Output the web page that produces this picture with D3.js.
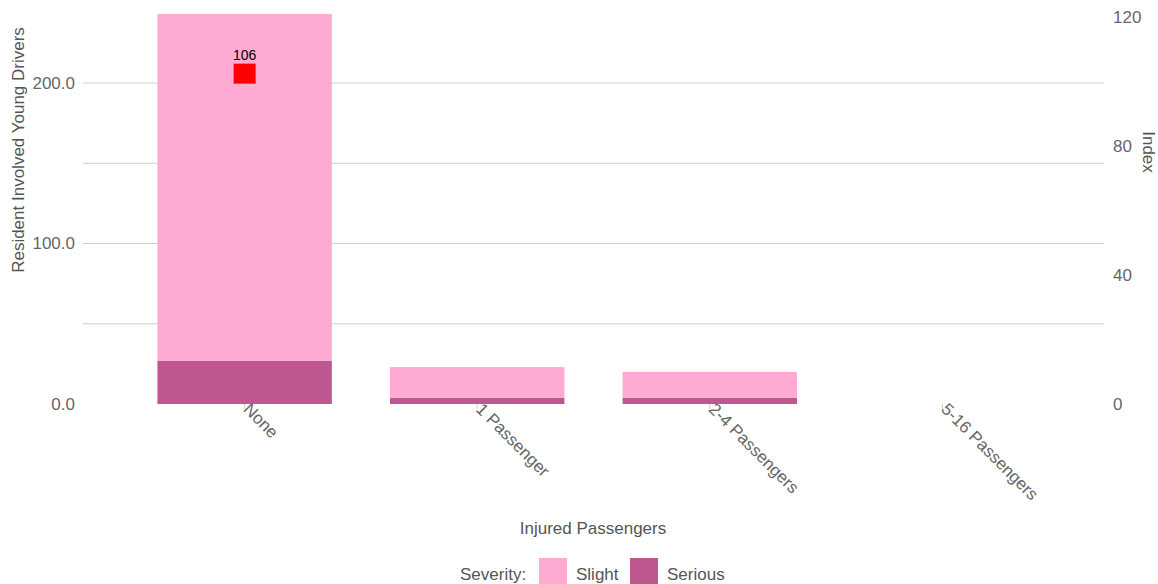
<!DOCTYPE html>
<html><head><meta charset="utf-8">
<script src="https://cdn.jsdelivr.net/npm/d3@7"></script>
<style>body{margin:0;background:#fff;font-family:"Liberation Sans",Arial,sans-serif;}</style>
</head><body><svg id="c" width="1158" height="584"></svg>
<script>
const categories = ["None", "1 Passenger", "2-4 Passengers", "5-16 Passengers"];
const slight = [216, 19, 16, 0];
const serious = [27, 4, 4, 0];
const indexValues = [106, null, null, null];
const leftTicks = [0, 100, 200];
const gridTicks = [50, 100, 150, 200];
const rightTicks = [0, 40, 80, 120];
const seriesNames = ["Slight", "Serious"];
const colors = {Slight: "#FFAAD2", Serious: "#BE578F"};

const svg = d3.select("#c");
const pL = 83, pR = 1104, pT = 14, pB = 404;
const x = d3.scaleBand().domain(categories).range([pL, pR]).paddingInner(0.25).paddingOuter(0.32);
const y = d3.scaleLinear().domain([0, 243]).range([pB, pT]);
const y2 = d3.scaleLinear().domain([0, 120]).range([pB, 17]);
const tc = "#666";
const ff = "Liberation Sans, Arial, sans-serif";

// grid
svg.append("g").selectAll("line").data(gridTicks).join("line")
  .attr("x1", pL).attr("x2", pR).attr("y1", d => y(d)).attr("y2", d => y(d))
  .attr("stroke", "#d0d0d0").attr("stroke-width", 1);

// stacked bars
const rows = categories.map((c, i) => ({cat: c, Serious: serious[i], Slight: slight[i]}));
const stack = d3.stack().keys(["Serious", "Slight"])(rows);
svg.append("g").selectAll("g").data(stack).join("g")
  .attr("fill", d => colors[d.key])
  .selectAll("rect").data(d => d).join("rect")
  .attr("x", d => x(d.data.cat)).attr("width", x.bandwidth())
  .attr("y", d => y(d[1])).attr("height", d => y(d[0]) - y(d[1]));

// left axis
const ya = svg.append("g").attr("transform", `translate(${pL},0)`)
  .call(d3.axisLeft(y).tickValues(leftTicks).tickFormat(d3.format(".1f")).tickSize(0).tickPadding(8));
ya.select(".domain").remove();
ya.selectAll("text").attr("fill", tc).style("font-size", "17px").style("font-family", ff);

// right axis
const ra = svg.append("g").attr("transform", `translate(${pR},0)`)
  .call(d3.axisRight(y2).tickValues(rightTicks).tickSize(0).tickPadding(9));
ra.select(".domain").remove();
ra.selectAll("text").attr("fill", tc).style("font-size", "17px").style("font-family", ff);

// x axis
const xa = svg.append("g").attr("transform", `translate(0,${pB})`)
  .call(d3.axisBottom(x).tickSize(5).tickPadding(2));
xa.select(".domain").remove();
xa.selectAll(".tick line").attr("stroke", "#ccc");
xa.selectAll("text").attr("fill", tc).style("font-size", "17px").style("font-family", ff)
  .attr("text-anchor", "start").attr("transform", "translate(0,0) rotate(45)").attr("dy", "0.35em").attr("y", 0).attr("x", 3);

// index markers
const pts = categories.map((c, i) => ({cat: c, v: indexValues[i]})).filter(d => d.v != null);
svg.append("g").selectAll("rect").data(pts).join("rect")
  .attr("x", d => x(d.cat) + x.bandwidth() / 2 - 11).attr("y", d => y2(d.v) + 1.5).attr("width", 22).attr("height", 20)
  .attr("fill", "#ff0000");
svg.append("g").selectAll("text").data(pts).join("text")
  .attr("x", d => x(d.cat) + x.bandwidth() / 2).attr("y", d => y2(d.v) - 2)
  .attr("text-anchor", "middle").style("font-size", "14px").style("font-family", ff).attr("fill", "#000").text(d => d.v);

// axis titles
svg.append("text").attr("transform", "translate(24,150) rotate(-90)").attr("text-anchor", "middle")
  .attr("fill", "#555").style("font-size", "17px").style("font-family", ff).text("Resident Involved Young Drivers");
svg.append("text").attr("transform", "translate(1143,152) rotate(90)").attr("text-anchor", "middle")
  .attr("fill", "#555").style("font-size", "17px").style("font-family", ff).text("Index");
svg.append("text").attr("x", 593).attr("y", 534).attr("text-anchor", "middle")
  .attr("fill", "#555").style("font-size", "17px").style("font-family", ff).text("Injured Passengers");

// legend
const lg = svg.append("g").style("font-family", ff);
lg.append("text").attr("x", 460).attr("y", 580).attr("fill", "#555").style("font-size", "17px").text("Severity:");
const lx = [539, 630];
seriesNames.forEach((s, i) => {
  lg.append("rect").attr("x", lx[i]).attr("y", 558).attr("width", 28).attr("height", 26).attr("fill", colors[s]);
  lg.append("text").attr("x", lx[i] + 37).attr("y", 580).attr("fill", "#555").style("font-size", "17px").text(s);
});
</script></body></html>
